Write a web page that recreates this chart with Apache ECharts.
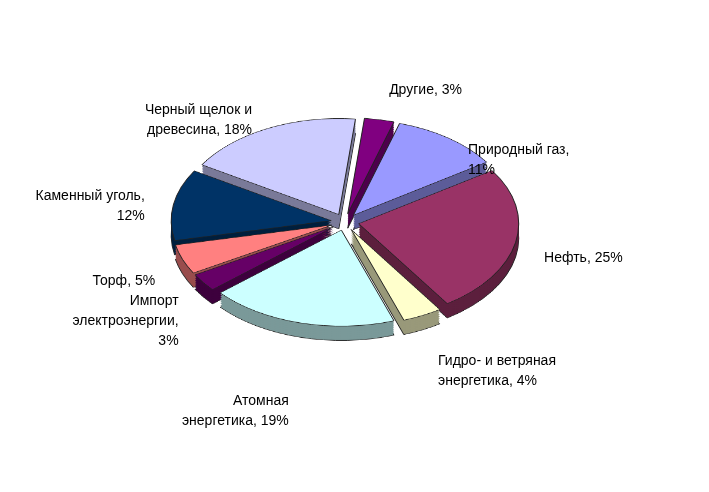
<!DOCTYPE html>
<html><head><meta charset="utf-8">
<script src="https://cdn.jsdelivr.net/npm/echarts@6/dist/echarts.min.js"></script>
<style>body{margin:0;background:#fff;overflow:hidden}
#pie{position:absolute;left:0;top:0;width:709px;height:820px;transform:scaleY(0.6);transform-origin:0 0}
#lab{position:absolute;left:0;top:0;width:709px;height:492px}</style>
</head><body><div id="pie"></div><div id="lab"></div>
<script>
const categories = ['Другие, 3%','Природный газ,\n11%','Нефть, 25%','Гидро- и ветряная\nэнергетика, 4%','Атомная\nэнергетика, 19%','Импорт\nэлектроэнергии,\n3%','Торф, 5%','Каменный уголь,\n12%','Черный щелок и\nдревесина, 18%'];
const values = [3,11,25,4,19,3,5,12,18];
const colors = ['#800080','#9999FF','#993366','#FFFFCC','#CCFFFF','#660066','#FF8080','#003366','#CCCCFF'];
const sides = ['#4d004d','#5c5c99','#5c1f3d','#99997a','#7a9999','#3d003d','#994d4d','#001f3d','#7a7a99'];
const CX=345, CY=222, R=160, START=84;
const mk=(cols,yoff,bw)=>({type:'pie',center:[CX,CY/0.6+yoff],radius:[0,R],startAngle:START,clockwise:true,
  selectedMode:'multiple',selectedOffset:14,label:{show:false},labelLine:{show:false},silent:true,animation:false,
  itemStyle:{borderColor:'#222',borderWidth:bw},
  data:values.map((v,i)=>({value:v,name:categories[i],selected:true,itemStyle:{color:cols[i],borderColor:bw?'#222':cols[i]}}))});
const layers=[];
for(let k=24;k>0;k-=3) layers.push(mk(sides,k,k===24?1:0));
layers.push(mk(colors,0,1));
echarts.init(document.getElementById('pie')).setOption({series:layers});
echarts.init(document.getElementById('lab')).setOption({series:[{type:'pie',center:[CX,CY],radius:[0,R],startAngle:START,
  animation:false,silent:true,itemStyle:{color:'rgba(0,0,0,0)'},
  label:{show:true,position:'outside',color:'#000',fontFamily:'Liberation Sans',fontSize:14,lineHeight:20,align:'center'},
  labelLine:{show:false,length:38,length2:0},
  labelLayout:function(p){const r=p.labelRect;return {y:CY+(r.y+r.height/2-CY)*0.72+8,moveOverlap:'shiftY'};},
  data:values.map((v,i)=>({value:v,name:categories[i]}))}]});
</script></body></html>
